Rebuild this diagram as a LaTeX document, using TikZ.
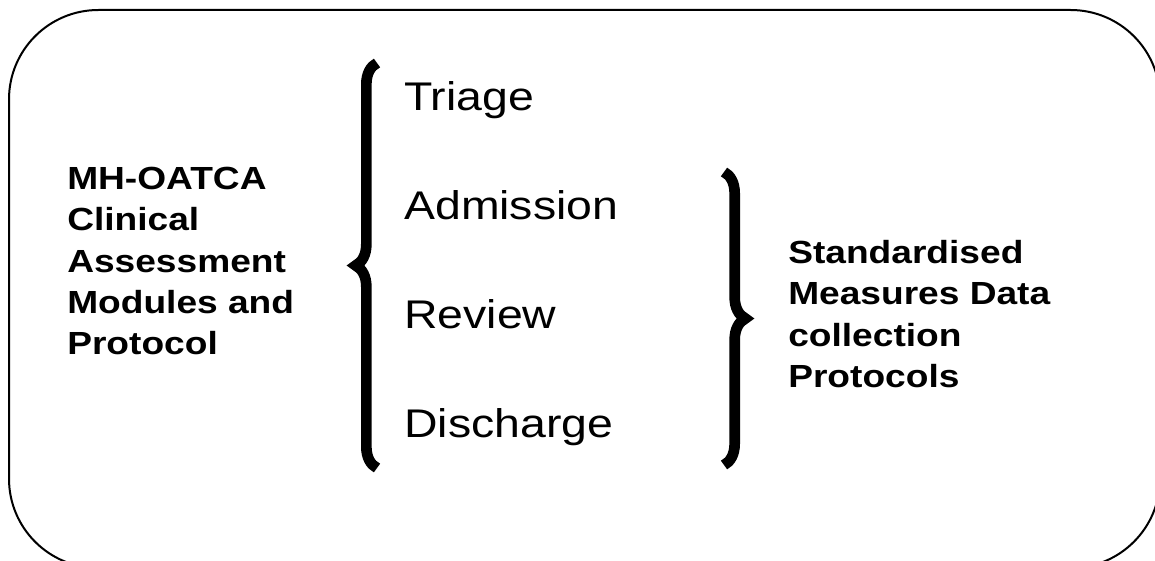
\documentclass[tikz,border=0pt]{standalone}
\usepackage{fontspec}
\setmainfont[FakeStretch=1.16]{Liberation Sans}
\usetikzlibrary{decorations.pathreplacing}

\tikzset{
  stage/.style={anchor=base west,inner sep=0pt,font=\fontsize{30}{36}\selectfont},
  sidetext/.style={anchor=north west,inner sep=0pt,align=left,font=\fontsize{24}{31}\bfseries\selectfont},
  curly/.style={decorate,decoration={brace,amplitude=16pt,aspect=0.5},line width=8pt}
}

\begin{document}
\begin{tikzpicture}[x=0.75pt,y=0.75pt,yscale=-1,xscale=1]

\clip (0,0) rectangle (1155,560);

% outer frame
\draw[line width=1.5pt,rounded corners=67pt] (9,10) rectangle (1160,568);

% left block
\node[sidetext] (modules) at (67,167) {MH-OATCA\\Clinical\\Assessment\\Modules and\\Protocol};

% stages
\node[stage] (triage) at (404,110) {Triage};
\node[stage] (admission) at (404,219) {Admission};
\node[stage] (review) at (404,328) {Review};
\node[stage] (discharge) at (404,437) {Discharge};

% right block
\node[sidetext] (measures) at (788,240) {Standardised\\Measures Data\\collection\\Protocols};

% braces
\coordinate (lbtop) at (377,63);
\coordinate (lbbot) at (377,468);
\coordinate (rbtop) at (724,172);
\coordinate (rbbot) at (724,465);

\draw[curly] (lbbot) -- (lbtop);
\draw[curly] (rbtop) -- (rbbot);

\end{tikzpicture}
\end{document}
